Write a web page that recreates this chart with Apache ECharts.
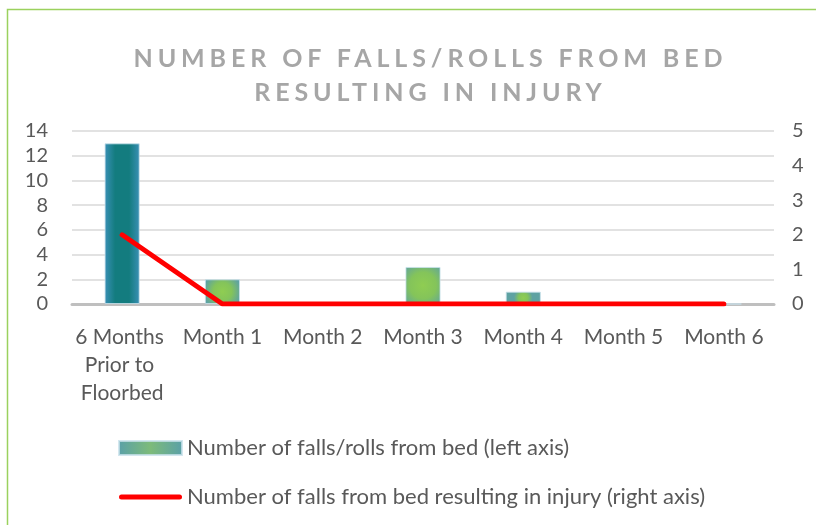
<!DOCTYPE html>
<html>
<head>
<meta charset="utf-8">
<script src="https://cdn.jsdelivr.net/npm/echarts@6/dist/echarts.min.js"></script>
<style>
  html, body { margin: 0; padding: 0; background: #fff; }
  #wrap { position: relative; width: 816px; height: 525px; }
  #chart { position: absolute; left: 0; top: 0; width: 816px; height: 525px; }
  #title {
    position: absolute; left: 0; top: 40px; width: 856px; text-align: center;
    font-family: Lato, "Open Sans", sans-serif;
    font-weight: bold; font-size: 25px; line-height: 34px; color: #a6a6a6;
    letter-spacing: 6px; pointer-events: none; white-space: nowrap;
  }
  #title span { display: inline-block; }
</style>
</head>
<body>
<div id="wrap">
  <div id="chart"></div>
  <div id="title"><span id="t1">NUMBER OF FALLS/ROLLS FROM BED</span><br><span id="t2">RESULTING IN INJURY</span></div>
</div>
<script>
const categories = ["6 Months Prior to Floorbed", "Month 1", "Month 2", "Month 3", "Month 4", "Month 5", "Month 6"];
const fallsRolls = [13, 2, 0, 3, 1, 0, 0];
const injuryFalls = [2, 0, 0, 0, 0, 0, 0];
const leftTicks = [0, 2, 4, 6, 8, 10, 12, 14];
const rightTicks = [0, 1, 2, 3, 4, 5];
const seriesNames = ["Number of falls/rolls from bed (left axis)", "Number of falls from bed resulting in injury (right axis)"];

// fit title letter spacing so the first line spans the reference width
(function () {
  const t = document.getElementById('title');
  const s = document.getElementById('t1');
  t.style.letterSpacing = '0px';
  const w = s.getBoundingClientRect().width;
  const n = s.textContent.length;
  const ls = (589 - w) / (n - 1);
  t.style.letterSpacing = ls + 'px';
  t.style.paddingLeft = ls + 'px';
  t.style.width = (856 - ls) + 'px';
})();

const greenGrad = {
  type: 'radial', x: 0.5, y: 0.5, r: 0.75,
  colorStops: [{offset: 0, color: '#8fcd52'}, {offset: 0.5, color: '#84c45a'}, {offset: 1, color: '#5ea2a2'}]
};
const tealGrad = {
  type: 'linear', x: 0, y: 0, x2: 1, y2: 0,
  colorStops: [{offset: 0, color: '#3a90b6'}, {offset: 0.3, color: '#137c7f'}, {offset: 0.7, color: '#137c7f'}, {offset: 1, color: '#3a90b6'}]
};
const legendGrad = {
  type: 'linear', x: 0, y: 0, x2: 1, y2: 0,
  colorStops: [{offset: 0, color: '#5aa0a8'}, {offset: 0.5, color: '#7dbb7a'}, {offset: 1, color: '#5aa0a8'}]
};

const barData = fallsRolls.map((v, i) => i === 0 ? {value: v, itemStyle: {color: tealGrad}} : {value: v, itemStyle: {color: greenGrad}});

const labelFont = 'Lato, "Open Sans", sans-serif';
const chart = echarts.init(document.getElementById('chart'), null, {renderer: 'canvas'});
chart.setOption({
  animation: false,
  backgroundColor: '#fff',
  textStyle: {fontFamily: labelFont},
  graphic: [{
    type: 'rect', silent: true,
    shape: {x: 7.5, y: 9.5, width: 900, height: 600},
    style: {fill: 'none', stroke: '#9bd15e', lineWidth: 1.5}
  }],
  grid: {left: 72, right: 42, top: 131, bottom: 221, containLabel: false},
  legend: {
    orient: 'vertical', left: 113, top: 432, itemGap: 27,
    itemWidth: 63, itemHeight: 14,
    textStyle: {fontSize: 22, color: '#595959', fontFamily: labelFont},
    data: [
      {name: seriesNames[0], icon: 'rect', itemStyle: {color: legendGrad}},
      {name: seriesNames[1], icon: 'path://M0,0 M2.5,4.5 L60.5,4.5 A2.5,2.5 0 0 1 60.5,9.5 L2.5,9.5 A2.5,2.5 0 0 1 2.5,4.5 Z M63,14',
       itemStyle: {color: '#ff0000'}}
    ]
  },
  xAxis: {
    type: 'category', data: categories,
    axisLine: {lineStyle: {color: '#bfbfbf', width: 3}},
    axisTick: {show: false},
    axisLabel: {
      interval: 0, margin: 19, fontSize: 21, color: '#595959', lineHeight: 28,
      width: 98, overflow: 'break'
    }
  },
  yAxis: [{
    type: 'value', min: 0, max: 14, interval: 2,
    axisLine: {show: false}, axisTick: {show: false},
    axisLabel: {fontSize: 20, color: '#595959', margin: 24,
      formatter: v => leftTicks.includes(v) ? String(v) : ''},
    splitLine: {lineStyle: {color: '#d9d9d9', width: 1.5}}
  }, {
    type: 'value', min: 0, max: 5, interval: 1,
    axisLine: {show: false}, axisTick: {show: false},
    axisLabel: {fontSize: 20, color: '#595959', margin: 18,
      formatter: v => rightTicks.includes(v) ? String(v) : ''},
    splitLine: {show: false}
  }],
  series: [{
    name: seriesNames[0], type: 'bar', yAxisIndex: 0,
    barWidth: '35%',
    itemStyle: {color: legendGrad, borderColor: 'rgba(200,225,235,0.8)', borderWidth: 1},
    data: barData
  }, {
    name: seriesNames[1], type: 'line', yAxisIndex: 1,
    symbol: 'none', z: 5,
    lineStyle: {color: '#ff0000', width: 5, cap: 'round', join: 'round'},
    itemStyle: {color: '#ff0000'},
    data: injuryFalls
  }]
});
</script>
</body>
</html>
